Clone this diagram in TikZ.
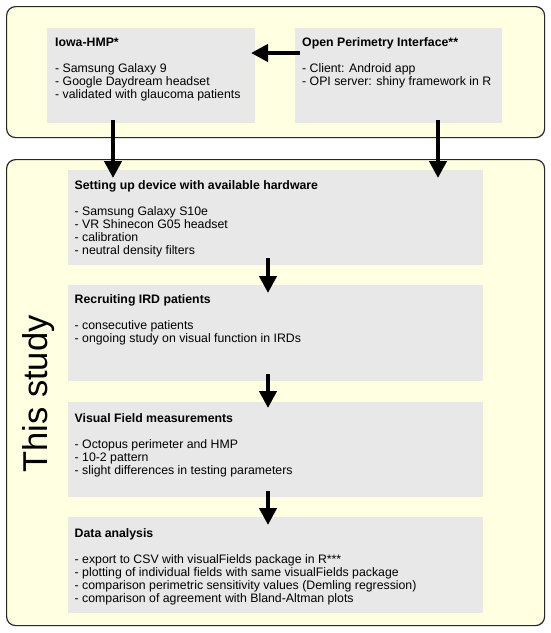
\documentclass[tikz,border=0pt]{standalone}
\usepackage{fontspec}
\setmainfont{Liberation Sans}
\usetikzlibrary{arrows.meta}
\definecolor{outerfill}{RGB}{255,255,225}
\definecolor{boxfill}{RGB}{232,232,232}
\definecolor{outerline}{RGB}{40,40,40}
\newcommand\boxtitle[1]{\rule{0pt}{9.5pt}\textbf{#1}}
\begin{document}
\begin{tikzpicture}[x=1pt,y=-1pt,
  outer/.style={draw=outerline, line width=1.2pt, fill=outerfill, rounded corners=9pt, anchor=north west, inner sep=0pt},
  graybox/.style={fill=boxfill, draw=none, anchor=north west, inner sep=0pt},
  txt/.style={anchor=north west, inner sep=0pt, align=left, font=\fontsize{12.3}{13}\selectfont},
  arr/.style={line width=4.5pt, -{Triangle[length=17pt,width=17pt]}}]
\useasboundingbox (0,0) rectangle (550,633);
% outer frames
\node (topframe) [outer, minimum width=538pt, minimum height=131pt] at (6,6) {};
\node (studyframe) [outer, minimum width=538pt, minimum height=466pt] at (6,159) {};
% gray boxes
\node (iowa) [graybox, minimum width=208pt, minimum height=95pt] at (47,28) {};
\node (opi) [graybox, minimum width=207pt, minimum height=95pt] at (295,28) {};
\node (setup) [graybox, minimum width=415pt, minimum height=95pt] at (68,170) {};
\node (recruit) [graybox, minimum width=415pt, minimum height=96pt] at (68,285) {};
\node (vf) [graybox, minimum width=415pt, minimum height=95pt] at (68,402) {};
\node (data) [graybox, minimum width=415pt, minimum height=96pt] at (68,517) {};
% texts
\node (iowatxt) [txt] at (55,36.5) {\boxtitle{Iowa-HMP*}\\[13pt]
- Samsung Galaxy 9\\
- Google Daydream headset\\
- validated with glaucoma patients};
\node (opitxt) [txt] at (302,36.5) {\boxtitle{Open Perimetry Interface**}\\[13pt]
- Client: Android app\\
- OPI server: shiny framework in R};
\node (setuptxt) [txt] at (74.5,179.5) {\boxtitle{Setting up device with available hardware}\\[13pt]
- Samsung Galaxy S10e\\
- VR Shinecon G05 headset\\
- calibration\\
- neutral density filters};
\node (recruittxt) [txt] at (74.5,293.5) {\boxtitle{Recruiting IRD patients}\\[13pt]
- consecutive patients\\
- ongoing study on visual function in IRDs};
\node (vftxt) [txt] at (74.5,412.5) {\boxtitle{Visual Field measurements}\\[13pt]
- Octopus perimeter and HMP\\
- 10-2 pattern\\
- slight differences in testing parameters};
\node (datatxt) [txt] at (74.5,527.5) {\boxtitle{Data analysis}\\[13pt]
- export to CSV with visualFields package in R***\\
- plotting of individual fields with same visualFields package\\
- comparison perimetric sensitivity values (Demling regression)\\
- comparison of agreement with Bland-Altman plots};
\node (study) [rotate=90, anchor=base, inner sep=0pt, font=\fontsize{34.5}{40}\selectfont] at (47,394) {This study};
% arrow end points
\coordinate (a0s) at (300,53);  \coordinate (a0e) at (251,53);
\coordinate (a1s) at (113,120); \coordinate (a1e) at (113,178);
\coordinate (a2s) at (438,120); \coordinate (a2e) at (438,178);
\coordinate (a3s) at (268,258); \coordinate (a3e) at (268,293);
\coordinate (a4s) at (268,374); \coordinate (a4e) at (268,408);
\coordinate (a5s) at (268,491); \coordinate (a5e) at (268,525);
\draw[arr] (a0s) -- (a0e);
\draw[arr] (a1s) -- (a1e);
\draw[arr] (a2s) -- (a2e);
\draw[arr] (a3s) -- (a3e);
\draw[arr] (a4s) -- (a4e);
\draw[arr] (a5s) -- (a5e);
\end{tikzpicture}
\end{document}
